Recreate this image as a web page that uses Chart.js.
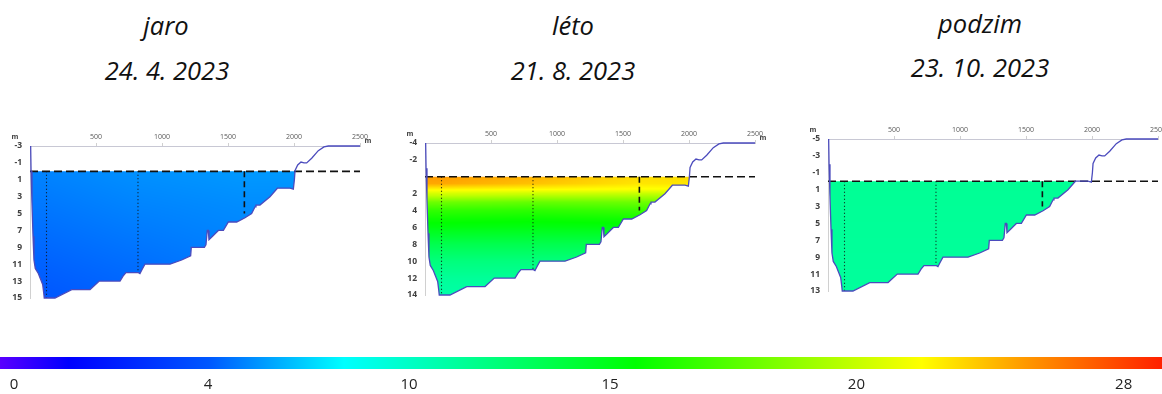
<!DOCTYPE html>
<html lang="cs">
<head>
<meta charset="utf-8">
<title>Teplota vody v profilu nádrže 2023</title>
<script src="https://cdn.jsdelivr.net/npm/chart.js@4.4.1/dist/chart.umd.min.js"></script>
<style>
  html, body { margin: 0; padding: 0; background: #fff; width: 1162px; height: 394px; overflow: hidden; }
  .box { position: absolute; }
  .ttl { position: absolute; width: 240px; text-align: center; font-family: 'Open Sans', sans-serif;
         font-style: italic; font-size: 25.5px; line-height: 30px; color: #111; white-space: nowrap; }
</style>
</head>
<body>
<div class="ttl" style="left:46px;top:10px">jaro</div>
<div class="ttl" style="left:47px;top:55px">24. 4. 2023</div>
<div class="ttl" style="left:453px;top:10px">léto</div>
<div class="ttl" style="left:453px;top:55px">21. 8. 2023</div>
<div class="ttl" style="left:860px;top:8px">podzim</div>
<div class="ttl" style="left:860px;top:52px">23. 10. 2023</div>

<div class="box" style="left:0px;top:120px"><canvas id="cJaro" width="380" height="185"></canvas></div>
<div class="box" style="left:395px;top:117px"><canvas id="cLeto" width="380" height="185"></canvas></div>
<div class="box" style="left:798px;top:113px"><canvas id="cPodzim" width="380" height="185"></canvas></div>
<div class="box" style="left:0px;top:350px"><canvas id="cScale" width="1162" height="44"></canvas></div>

<script>
// ---- cross-section of the reservoir: distance along the profile (m) ----
const distance = [5, 8, 15, 23, 30, 40, 63, 81, 96, 104,
  108, 189, 316, 455, 525, 682, 705, 727, 821, 833,
  850, 871, 1061, 1149, 1217, 1222, 1321, 1333, 1343, 1351,
  1356, 1389, 1427, 1465, 1503, 1566, 1629, 1679, 1705, 1712,
  1742, 1818, 1874, 1970, 1995, 2003, 2008, 2028, 2053, 2076,
  2096, 2134, 2184, 2227, 2260, 2500];

// depth of the terrain below the water surface (m) on each survey date
const depthJaro = [-3, 0, 3.8, 7.7, 10.5, 11.5, 12.1, 12.8, 13.4, 14.4,
  15, 15, 14, 14, 13, 13, 12.4, 12, 12, 12.1,
  11.6, 11, 11, 10.5, 10, 9, 9, 8.7, 7, 7,
  8.1, 7.6, 7, 7, 6, 6, 5.5, 5, 4.2, 4,
  4, 3, 2, 2, 2.1, 1, -0.1, -0.75, -1.1, -1,
  -1, -1.55, -2.45, -2.9, -3, -3];
const depthLeto = [-4, -1, 2.8, 6.7, 9.5, 10.5, 11.1, 11.8, 12.4, 13.4,
  14, 14, 13, 13, 12, 12, 11.4, 11, 11, 11.1,
  10.6, 10, 10, 9.5, 9, 8, 8, 7.7, 6, 6,
  7.1, 6.6, 6, 6, 5, 5, 4.5, 4, 3.2, 3,
  3, 2, 1, 1, 1.1, 0, -1.1, -1.75, -2.1, -2,
  -2, -2.55, -3.45, -3.9, -4, -4];
const depthPodzim = [-5, -2, 1.8, 5.7, 8.5, 9.5, 10.1, 10.8, 11.4, 12.4,
  13, 13, 12, 12, 11, 11, 10.4, 10, 10, 10.1,
  9.6, 9, 9, 8.5, 8, 7, 7, 6.7, 5, 5,
  6.1, 5.6, 5, 5, 4, 4, 3.5, 3, 2.2, 2,
  2, 1, 0, 0, 0.1, -1, -2.1, -2.75, -3.1, -3,
  -3, -3.55, -4.45, -4.9, -5, -5];

// sampling verticals: position (m) and sounded depth (m)
const stations = [125, 818, 1624];
const stationDepthJaro = [15, 12, 5];
const stationDepthLeto = [14, 11, 4];
const stationDepthPodzim = [13, 10, 3];

// measured water temperature (°C) at the three verticals
const tempLevelsJaro = [0, 4, 8, 12, 15];
const tempJaro = [
  [5.1, 4.8, 4.5, 4.2, 4.0],
  [5.4, 5.1, 4.8, 4.5, 4.3],
  [5.6, 5.3, 5.1, 4.9, 4.7]
];
const tempLevelsLeto = [0, 0.8, 1.5, 2, 3, 4, 5, 6, 8, 10, 12, 14];
const tempLeto = [
  [25.0, 24.6, 22.2, 20.5, 18.0, 16.6, 15.8, 15.2, 13.4, 12.1, 11.3, 10.9],
  [24.3, 23.8, 22.0, 20.2, 17.8, 16.5, 15.7, 15.1, 13.4, 12.1, 11.3, 10.9],
  [23.0, 22.7, 21.8, 20.0, 18.0, 16.8, 15.9, 15.2, 13.4, 12.1, 11.3, 10.9]
];
const tempLevelsPodzim = [0, 13];
const tempPodzim = [
  [11.4, 11.2],
  [11.4, 11.2],
  [11.4, 11.2]
];

// axis tick labels
const xTicks = [500, 1000, 1500, 2000, 2500];
const yTicksJaro = [-3, -1, 1, 3, 5, 7, 9, 11, 13, 15];
const yTicksLeto = [-4, -2, 2, 4, 6, 8, 10, 12, 14];
const yTicksPodzim = [-5, -3, -1, 1, 3, 5, 7, 9, 11, 13];

// temperature scale (°C) and where each label sits along the colour bar (0–1)
const scaleTemps = [0, 4, 10, 15, 20, 28];
const scaleTickPos = [0.012, 0.179, 0.352, 0.525, 0.737, 0.967];

// colour bar palette
const paletteStops = [
  [0.000, '#5a00ff'], [0.059, '#0000ff'], [0.180, '#0058ff'], [0.296, '#00ffff'],
  [0.547, '#00ff00'], [0.793, '#ffff00'], [0.882, '#ff9900'], [1.000, '#ff2000']
];

// ---- helpers ----
function lerpTable(xs, ys, x) {
  if (x <= xs[0]) return ys[0];
  const n = xs.length;
  if (x >= xs[n - 1]) return ys[n - 1];
  for (let i = 1; i < n; i++) {
    if (x <= xs[i]) {
      const t = (x - xs[i - 1]) / (xs[i] - xs[i - 1]);
      return ys[i - 1] + t * (ys[i] - ys[i - 1]);
    }
  }
  return ys[n - 1];
}
const paletteRGB = paletteStops.map(([p, c]) => [p, parseInt(c.slice(1, 3), 16), parseInt(c.slice(3, 5), 16), parseInt(c.slice(5, 7), 16)]);
const palettePos = paletteRGB.map(s => s[0]);
function tempColor(t) {
  const f = lerpTable(scaleTemps, scaleTickPos, t);
  return [1, 2, 3].map(k => Math.round(lerpTable(palettePos, paletteRGB.map(s => s[k]), f)));
}

// paints the temperature field into a pattern used as the water fill
const thermalField = {
  id: 'thermalField',
  afterLayout(chart, args, opts) {
    if (!opts || !opts.levels) return;
    const xs = chart.scales.x, ys = chart.scales.y;
    const W = chart.width, H = chart.height;
    const off = document.createElement('canvas');
    off.width = W; off.height = H;
    const octx = off.getContext('2d');
    const img = octx.createImageData(W, H);
    const a = chart.chartArea;
    const x0 = Math.max(0, Math.floor(a.left)), x1 = Math.min(W, Math.ceil(a.right));
    const y0 = Math.max(0, Math.floor(a.top)), y1 = Math.min(H, Math.ceil(a.bottom));
    const dists = [];
    for (let px = x0; px < x1; px++) dists.push(xs.getValueForPixel(px + 0.5));
    for (let py = y0; py < y1; py++) {
      const d = ys.getValueForPixel(py + 0.5);
      const colTemps = opts.temps.map(col => lerpTable(opts.levels, col, d));
      for (let i = 0; i < dists.length; i++) {
        const t = lerpTable(stations, colTemps, dists[i]);
        const c = tempColor(t);
        const idx = (py * W + x0 + i) * 4;
        img.data[idx] = c[0]; img.data[idx + 1] = c[1]; img.data[idx + 2] = c[2]; img.data[idx + 3] = 255;
      }
    }
    octx.putImageData(img, 0, 0);
    chart.$field = chart.ctx.createPattern(off, 'no-repeat');
  }
};

// unit captions next to both axes
const unitLabels = {
  id: 'unitLabels',
  afterDraw(chart) {
    const { ctx, chartArea } = chart;
    ctx.save();
    ctx.font = 'bold 7px "Open Sans"';
    ctx.fillStyle = '#404040';
    ctx.textAlign = 'center';
    ctx.textBaseline = 'middle';
    ctx.fillText('m', chartArea.left - 15, chartArea.top - 9.5);
    ctx.fillText('m', chartArea.right + 8, chartArea.top - 5);
    ctx.restore();
  }
};

function makeSection(canvasId, depth, stationDepth, levels, temps, yTicks) {
  const profile = distance.map((d, i) => ({ x: d, y: depth[i] }));
  const bed = distance.map((d, i) => ({ x: d, y: Math.max(depth[i], 0) }));
  const verticals = stations.map((s, i) => ({
    data: [{ x: s, y: 0 }, { x: s, y: stationDepth[i] }],
    borderColor: '#111',
    borderWidth: i === 2 ? 1.6 : 1.1,
    borderDash: i === 2 ? [6, 4] : [1, 2.5],
    pointRadius: 0, fill: false, order: 2
  }));
  return new Chart(document.getElementById(canvasId), {
    type: 'line',
    data: {
      datasets: [
        { data: profile, borderColor: '#4b4bbd', borderWidth: 1.3, pointRadius: 0, fill: false, order: 0, clip: false },
        { data: [{ x: 0, y: 0 }, { x: 2500, y: 0 }], borderColor: '#111', borderWidth: 1.6, borderDash: [8, 4], pointRadius: 0, fill: false, order: 1 },
        ...verticals,
        { data: bed, borderColor: 'rgba(0,0,0,0)', borderWidth: 1, pointRadius: 0, fill: { value: 0 },
          backgroundColor: c => c.chart.$field || 'rgba(0,0,0,0)', order: 3 }
      ]
    },
    options: {
      responsive: false, animation: false, events: [],
      layout: { padding: { left: 0, right: 20, top: 0, bottom: 7 } },
      plugins: { legend: { display: false }, tooltip: { enabled: false }, thermalField: { levels, temps } },
      scales: {
        x: {
          type: 'linear', position: 'top', min: 0, max: 2500,
          afterBuildTicks: s => { s.ticks = xTicks.map(v => ({ value: v })); },
          afterFit: s => { s.height = 26; s.paddingLeft = 0; s.paddingRight = 0; },
          ticks: { callback: v => String(v), font: { family: 'Open Sans', size: 7 }, color: '#595959', padding: 2, maxRotation: 0, autoSkip: false },
          grid: { display: true, drawOnChartArea: false, drawTicks: true, tickLength: 3, color: '#d0d0d0' },
          border: { display: true, color: '#c8c8d4', width: 1 }
        },
        y: {
          type: 'linear', reverse: true, min: yTicks[0], max: yTicks[yTicks.length - 1],
          afterBuildTicks: s => { s.ticks = yTicks.map(v => ({ value: v })); },
          afterFit: s => { s.width = 30; s.paddingTop = 0; s.paddingBottom = 0; },
          ticks: { callback: v => String(v), font: { family: 'Open Sans', size: 8.5, weight: 'bold' }, color: '#404040', padding: 8, autoSkip: false },
          grid: { display: false, drawTicks: false },
          border: { display: true, color: '#d0d0d0', width: 1 }
        }
      }
    },
    plugins: [thermalField, unitLabels]
  });
}

makeSection('cJaro', depthJaro, stationDepthJaro, tempLevelsJaro, tempJaro, yTicksJaro);
makeSection('cLeto', depthLeto, stationDepthLeto, tempLevelsLeto, tempLeto, yTicksLeto);
makeSection('cPodzim', depthPodzim, stationDepthPodzim, tempLevelsPodzim, tempPodzim, yTicksPodzim);

// temperature colour bar
new Chart(document.getElementById('cScale'), {
  type: 'bar',
  data: {
    labels: [''],
    datasets: [{
      data: [[0, 1]],
      backgroundColor: c => {
        const a = c.chart.chartArea;
        if (!a) return '#0000ff';
        const g = c.chart.ctx.createLinearGradient(a.left, 0, a.right, 0);
        paletteStops.forEach(([p, col]) => g.addColorStop(p, col));
        return g;
      },
      borderWidth: 0, barPercentage: 1, categoryPercentage: 1
    }]
  },
  options: {
    indexAxis: 'y', responsive: false, animation: false, events: [],
    layout: { padding: { top: 7, left: 0, right: 0, bottom: 0 } },
    plugins: { legend: { display: false }, tooltip: { enabled: false } },
    scales: {
      x: {
        type: 'linear', min: 0, max: 1, position: 'bottom',
        afterBuildTicks: s => { s.ticks = scaleTickPos.map(v => ({ value: v })); },
        afterFit: s => { s.height = 25; s.paddingLeft = 0; s.paddingRight = 0; },
        ticks: { callback: (v, i) => String(scaleTemps[i]), font: { family: 'Open Sans', size: 15 }, color: '#222', padding: 7, autoSkip: false, maxRotation: 0 },
        grid: { display: false, drawTicks: false }, border: { display: false }
      },
      y: { display: false }
    }
  }
});
</script>
</body>
</html>
